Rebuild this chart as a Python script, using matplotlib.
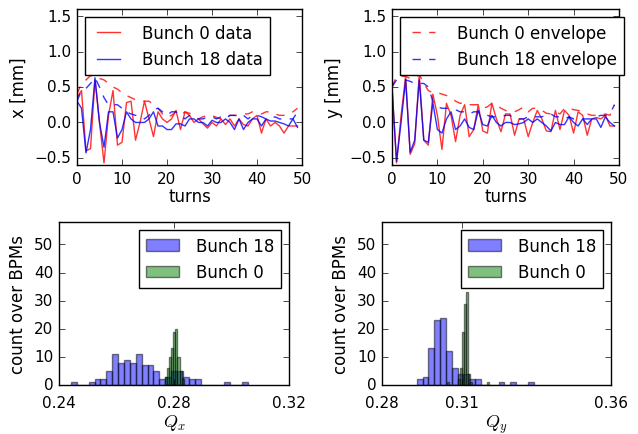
import matplotlib
matplotlib.use('Agg')
import matplotlib.pyplot as plt
import numpy as np

plt.style.use('classic')
plt.rcParams['mathtext.fontset'] = 'cm'

turns = np.arange(50)

# horizontal position, data and envelope
x_b0 = [0.35, 0.45, -0.4, -0.37, 0.6, 0.0, -0.57, 0.1, 0.45, -0.32,
        -0.28, 0.28, 0.3, -0.25, 0.0, 0.3, 0.05, -0.2, 0.15, 0.05,
        0.0, 0.05, 0.17, -0.1, 0.15, 0.1, 0.0, 0.05, -0.02, -0.08,
        0.0, -0.05, 0.05, -0.03, 0.05, -0.05, 0.05, -0.03, -0.05, 0.05,
        0.1, -0.15, 0.05, -0.05, 0.0, -0.05, -0.15, -0.05, -0.05, -0.05]
x_b18 = [0.3, 0.2, -0.43, -0.1, 0.63, 0.0, -0.35, 0.15, 0.15, -0.22,
         -0.1, 0.15, 0.05, 0.0, 0.0, 0.0, 0.05, 0.15, -0.05, -0.05,
         -0.1, -0.1, -0.02, -0.02, -0.05, 0.05, 0.05, 0.0, 0.0, -0.05,
         0.03, 0.0, 0.0, 0.05, 0.0, -0.1, 0.05, -0.1, 0.0, 0.05,
         0.05, -0.05, 0.05, 0.02, 0.02, 0.0, -0.02, -0.05, 0.05, -0.07]
x_env_b0 = [0.4, 0.55, 0.6, 0.66, 0.66, 0.62, 0.6, 0.55, 0.5, 0.47,
            0.42, 0.38, 0.35, 0.32, 0.3, 0.3, 0.3, 0.25, 0.2, 0.12,
            0.07, 0.1, 0.15, 0.1, 0.15, 0.13, 0.1, 0.05, 0.08, 0.1,
            0.1, 0.07, 0.05, 0.08, 0.1, 0.1, 0.1, 0.12, 0.12, 0.15,
            0.15, 0.12, 0.15, 0.15, 0.12, 0.1, 0.1, 0.12, 0.15, 0.2]
x_env_b18 = [0.3, 0.45, 0.48, 0.55, 0.63, 0.5, 0.35, 0.25, 0.25, 0.25,
             0.2, 0.15, 0.12, 0.1, 0.1, 0.05, 0.1, 0.18, 0.2, 0.15,
             0.1, 0.15, 0.15, 0.1, 0.05, 0.1, 0.05, 0.05, 0.05, 0.08,
             0.08, 0.05, 0.08, 0.05, 0.1, 0.1, 0.08, 0.1, 0.05, 0.1,
             0.1, 0.08, 0.05, 0.05, 0.08, 0.05, 0.05, 0.05, 0.05, 0.15]

# vertical position, data and envelope
y_b0 = [0.5, -0.57, 0.1, 0.65, -0.45, -0.3, 0.68, -0.25, -0.32, 0.4,
        0.1, -0.38, 0.27, 0.1, -0.27, 0.1, 0.25, -0.2, -0.1, 0.25,
        -0.12, -0.15, 0.27, 0.05, -0.13, 0.12, 0.12, -0.18, 0.05, 0.05,
        -0.2, 0.0, 0.17, 0.05, -0.12, -0.13, 0.17, -0.1, 0.17, 0.1,
        -0.15, 0.15, 0.1, -0.18, 0.05, 0.07, 0.05, 0.1, -0.05, -0.05]
y_b18 = [0.5, -0.55, 0.0, 0.6, -0.42, -0.25, 0.6, -0.25, -0.28, 0.28,
         -0.1, -0.15, 0.05, 0.15, -0.1, -0.05, 0.05, -0.07, -0.1, 0.17,
         -0.03, -0.05, 0.1, 0.0, -0.05, 0.0, 0.0, -0.03, -0.02, 0.0,
         0.05, 0.0, 0.05, 0.0, -0.05, -0.12, 0.0, -0.03, -0.03, 0.08,
         0.0, -0.05, 0.05, -0.03, 0.05, 0.05, -0.07, 0.08, 0.0, -0.05]
y_env_b0 = [0.5, 0.65, 0.65, 0.65, 0.62, 0.62, 0.68, 0.55, 0.45, 0.42,
            0.42, 0.4, 0.38, 0.35, 0.3, 0.27, 0.28, 0.25, 0.25, 0.25,
            0.2, 0.22, 0.27, 0.25, 0.2, 0.17, 0.15, 0.15, 0.18, 0.22,
            0.15, 0.2, 0.2, 0.17, 0.13, 0.12, 0.15, 0.12, 0.2, 0.2,
            0.18, 0.17, 0.15, 0.12, 0.1, 0.1, 0.1, 0.12, 0.1, 0.25]
y_env_b18 = [0.5, 0.6, 0.6, 0.6, 0.58, 0.55, 0.55, 0.55, 0.5, 0.3,
             0.22, 0.2, 0.2, 0.2, 0.18, 0.15, 0.15, 0.12, 0.15, 0.15,
             0.12, 0.1, 0.08, 0.08, 0.08, 0.1, 0.1, 0.05, 0.05, 0.05,
             0.08, 0.08, 0.08, 0.08, 0.1, 0.12, 0.08, 0.08, 0.05, 0.08,
             0.05, 0.05, 0.05, 0.05, 0.05, 0.08, 0.1, 0.1, 0.12, 0.25]

# tune histograms: bin range and counts per bin
qx_b18_range = (0.2442, 0.3056)
qx_b18_counts = [1, 0, 0, 1, 2, 2, 5, 11, 8, 9, 8, 11, 7, 7, 5,
                 2, 3, 5, 5, 3, 2, 2, 0, 0, 0, 0, 1, 0, 0, 1]
qx_b0_range = (0.2768, 0.2834)
qx_b0_counts = [3, 6, 10, 13, 19, 20, 10, 5, 2]

qy_b18_range = (0.29214, 0.33294)
qy_b18_counts = [2, 3, 13, 23, 24, 12, 6, 4, 4, 2, 2, 0, 0, 0, 1, 0, 1, 0, 0, 1]
qy_b0_range = (0.30285, 0.31733)
qy_b0_counts = [1, 0, 0, 0, 0, 2, 6, 19, 29, 33, 4, 1, 0, 0, 0, 0, 0, 0, 0, 1]

qx_ticks = [0.24, 0.28, 0.32]
qx_ticklabels = ['0.24', '0.28', '0.32']
qy_ticks = [0.28, 0.308, 0.36]
qy_ticklabels = ['0.28', '0.31', '0.36']

W, H = 638.0, 435.0


def box(left, right, top, bottom):
    return [left / W, 1 - bottom / H, (right - left) / W, (bottom - top) / H]


def plot_orbit(ax, d0, d18, e0, e18, ylabel, show):
    l1, = ax.plot(turns, d0, 'r-', alpha=0.8, label='Bunch 0 data')
    l2, = ax.plot(turns, d18, 'b-', alpha=0.8, label='Bunch 18 data')
    l3, = ax.plot(turns, e0, 'r--', alpha=0.8, label='Bunch 0 envelope')
    l4, = ax.plot(turns, e18, 'b--', alpha=0.8, label='Bunch 18 envelope')
    ax.set_xlim(0, 50)
    ax.set_ylim(-0.6, 1.6)
    ax.set_xticks([0, 10, 20, 30, 40, 50])
    ax.set_yticks([-0.5, 0.0, 0.5, 1.0, 1.5])
    ax.set_xlabel('turns', fontsize=12, labelpad=1)
    ax.set_ylabel(ylabel, fontsize=12)
    ax.tick_params(labelsize=11)
    handles = [l1, l2] if show == 'data' else [l3, l4]
    ax.legend(handles=handles, loc='upper left', fontsize=12,
              handletextpad=1.0)


def plot_tune(ax, r18, c18, r0, c0, ticks, ticklabels, xlabel):
    e18 = np.linspace(r18[0], r18[1], len(c18) + 1)
    e0 = np.linspace(r0[0], r0[1], len(c0) + 1)
    ax.hist(e18[:-1], bins=e18, weights=c18, color='b', edgecolor='k',
            alpha=0.5, label='Bunch 18')
    ax.hist(e0[:-1], bins=e0, weights=c0, color='g', edgecolor='k',
            alpha=0.5, label='Bunch 0')
    ax.set_xlim(ticks[0], ticks[-1])
    ax.set_ylim(0, 58)
    ax.set_xticks(ticks)
    ax.set_xticklabels(ticklabels)
    ax.set_yticks([0, 10, 20, 30, 40, 50])
    ax.set_xlabel(xlabel, fontsize=13, labelpad=2)
    ax.set_ylabel('count over BPMs', fontsize=12)
    ax.tick_params(labelsize=11)
    ax.tick_params(axis='x', pad=7)
    ax.legend(loc='upper right', fontsize=12, handletextpad=1.0)


fig = plt.figure(figsize=(6.38, 4.35), dpi=100)
fig.patch.set_facecolor('white')

ax1 = fig.add_axes(box(77, 302, 10, 166))
plot_orbit(ax1, x_b0, x_b18, x_env_b0, x_env_b18, 'x [mm]', 'data')

ax2 = fig.add_axes(box(392, 619, 10, 166))
plot_orbit(ax2, y_b0, y_b18, y_env_b0, y_env_b18, 'y [mm]', 'envelope')

ax3 = fig.add_axes(box(59, 289, 223, 386))
plot_tune(ax3, qx_b18_range, qx_b18_counts, qx_b0_range, qx_b0_counts,
          qx_ticks, qx_ticklabels, '$Q_x$')

ax4 = fig.add_axes(box(382, 611, 223, 386))
plot_tune(ax4, qy_b18_range, qy_b18_counts, qy_b0_range, qy_b0_counts,
          qy_ticks, qy_ticklabels, '$Q_y$')

fig.savefig('out.png', dpi=100, facecolor='white')
